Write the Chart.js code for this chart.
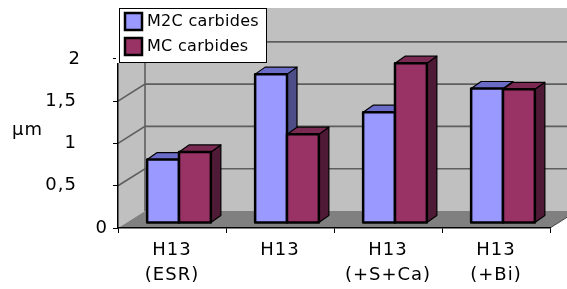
<!DOCTYPE html>
<html>
<head>
<meta charset="utf-8">
<title>Carbide size</title>
<script src="https://cdn.jsdelivr.net/npm/chart.js@4.4.0/dist/chart.umd.min.js"></script>
<style>
  html, body { margin: 0; padding: 0; background: #fff; }
  #wrap { width: 567px; height: 289px; }
</style>
</head>
<body>
<div id="wrap"><canvas id="grafica"></canvas></div>
<script>
const categories = [['H13', '(ESR)'], 'H13', ['H13', '(+S+Ca)'], ['H13', '(+Bi)']];
const m2cValues = [0.75, 1.76, 1.31, 1.59];
const mcValues = [0.84, 1.05, 1.89, 1.58];
const seriesNames = ['M2C carbides', 'MC carbides'];
const yTicks = [0, 0.5, 1, 1.5, 2];
const yTitle = 'µm';

// 3D look: depth of the walls/floor and of the bars
const DX = 27, DY = -17;
const BX = 7, BY = -5;
const BDX = 10, BDY = -7;

const faces = [
  { front: '#9999FF', top: '#6B6BC8', side: '#4D4D88' },
  { front: '#993366', top: '#7A2952', side: '#4F1A35' }
];

function poly(ctx, pts, fill, stroke) {
  ctx.beginPath();
  ctx.moveTo(pts[0][0], pts[0][1]);
  for (let i = 1; i < pts.length; i++) ctx.lineTo(pts[i][0], pts[i][1]);
  ctx.closePath();
  if (fill) { ctx.fillStyle = fill; ctx.fill(); }
  if (stroke) ctx.stroke();
}

const box3d = {
  id: 'box3d',
  beforeDraw(chart) {
    const { ctx, chartArea: a, scales: { y } } = chart;
    const L = a.left, R = a.right, T = a.top, B = a.bottom;
    ctx.save();
    // walls and floor
    ctx.fillStyle = '#C0C0C0';
    ctx.fillRect(L + DX, T + DY, R - L, B - T);
    poly(ctx, [[L, B], [L + DX, B + DY], [L + DX, T + DY], [L, T]], '#C0C0C0');
    poly(ctx, [[L, B], [R, B], [R + DX, B + DY], [L + DX, B + DY]], '#808080');
    // gridlines on the walls
    ctx.strokeStyle = '#5E5E5E';
    ctx.lineWidth = 1.6;
    yTicks.forEach(v => {
      if (v === 0) return;
      const py = y.getPixelForValue(v);
      ctx.beginPath();
      ctx.moveTo(L, py);
      ctx.lineTo(L + DX, py + DY);
      ctx.lineTo(R + DX, py + DY);
      ctx.stroke();
    });
    ctx.beginPath();
    ctx.moveTo(L + DX, T + DY);
    ctx.lineTo(L + DX, B + DY);
    ctx.stroke();
    ctx.lineWidth = 1;
    ctx.strokeStyle = '#444';
    ctx.beginPath();
    ctx.moveTo(R, B);
    ctx.lineTo(R + DX, B + DY);
    ctx.stroke();
    ctx.restore();
    ctx.letterSpacing = '1px';
  },
  beforeDatasetsDraw(chart) {
    const ctx = chart.ctx;
    ctx.save();
    ctx.strokeStyle = '#000';
    ctx.lineJoin = 'round';
    categories.forEach((c, i) => {
      chart.data.datasets.forEach((ds, d) => {
        const el = chart.getDatasetMeta(d).data[i];
        const x1 = el.x - el.width / 2 + BX, x2 = el.x + el.width / 2 + BX;
        const y1 = el.y + BY, y2 = el.base + BY;
        const f = faces[d];
        ctx.lineWidth = 1.2;
        poly(ctx, [[x2, y1], [x2 + BDX, y1 + BDY], [x2 + BDX, y2 + BDY], [x2, y2]], f.side, true);
        poly(ctx, [[x1, y1], [x1 + BDX, y1 + BDY], [x2 + BDX, y1 + BDY], [x2, y1]], f.top, true);
        ctx.lineWidth = 2.5;
        poly(ctx, [[x1, y1], [x2, y1], [x2, y2], [x1, y2]], f.front, true);
      });
    });
    ctx.restore();
    return false;
  },
  afterDraw(chart) {
    const { ctx, scales: { y } } = chart;
    ctx.save();
    ctx.fillStyle = '#000';
    ctx.font = '18px "DejaVu Sans"';
    ctx.letterSpacing = '1px';
    ctx.textAlign = 'right';
    ctx.textBaseline = 'middle';
    // y tick labels (Excel puts the 0 closer to the axis)
    yTicks.forEach(v => {
      const lx = v === 0 ? 108 : (v === 2 ? 81 : 77);
      ctx.fillText(String(v).replace('.', ','), lx, y.getPixelForValue(v));
    });
    ctx.textAlign = 'left';
    ctx.fillText(yTitle, 12, 130);

    // legend
    ctx.fillStyle = '#fff';
    ctx.fillRect(116, 8, 151, 55);
    ctx.strokeStyle = '#000';
    ctx.lineWidth = 1;
    ctx.strokeRect(119.5, 8.5, 147, 54);
    ctx.font = '16px "DejaVu Sans"';
    ctx.letterSpacing = '0.3px';
    seriesNames.forEach((name, d) => {
      const sy = 13 + d * 25;
      ctx.fillStyle = faces[d].front;
      ctx.lineWidth = 2.5;
      ctx.fillRect(125, sy, 17, 17);
      ctx.strokeRect(125, sy, 17, 17);
      ctx.fillStyle = '#000';
      ctx.fillText(name, 147, sy + 9);
    });
    ctx.restore();
  }
};

new Chart(document.getElementById('grafica'), {
  type: 'bar',
  data: {
    labels: categories,
    datasets: [
      { label: seriesNames[0], data: m2cValues, backgroundColor: faces[0].front },
      { label: seriesNames[1], data: mcValues, backgroundColor: faces[1].front }
    ]
  },
  options: {
    responsive: true,
    maintainAspectRatio: false,
    animation: false,
    devicePixelRatio: 1,
    categoryPercentage: 0.59,
    barPercentage: 1,
    layout: { padding: { left: 0, right: 17, top: 25, bottom: 0 } },
    plugins: { legend: { display: false }, tooltip: { enabled: false } },
    scales: {
      x: {
        grid: { drawOnChartArea: false, drawTicks: true, tickLength: 5, color: '#000' },
        border: { color: '#000', width: 1.5 },
        ticks: {
          color: '#000',
          font: { family: 'DejaVu Sans', size: 18, lineHeight: 1.39 },
          padding: 5,
          maxRotation: 0,
          autoSkip: false
        },
        afterFit(s) { s.height = 61; }
      },
      y: {
        min: 0,
        max: 2.4,
        afterBuildTicks(s) { s.ticks = yTicks.map(v => ({ value: v })); },
        grid: { drawOnChartArea: false, drawTicks: true, tickLength: 5, color: '#000' },
        border: { color: '#000', width: 1.5 },
        ticks: { display: false },
        afterFit(s) { s.width = 118; }
      }
    }
  },
  plugins: [box3d]
});
</script>
</body>
</html>
